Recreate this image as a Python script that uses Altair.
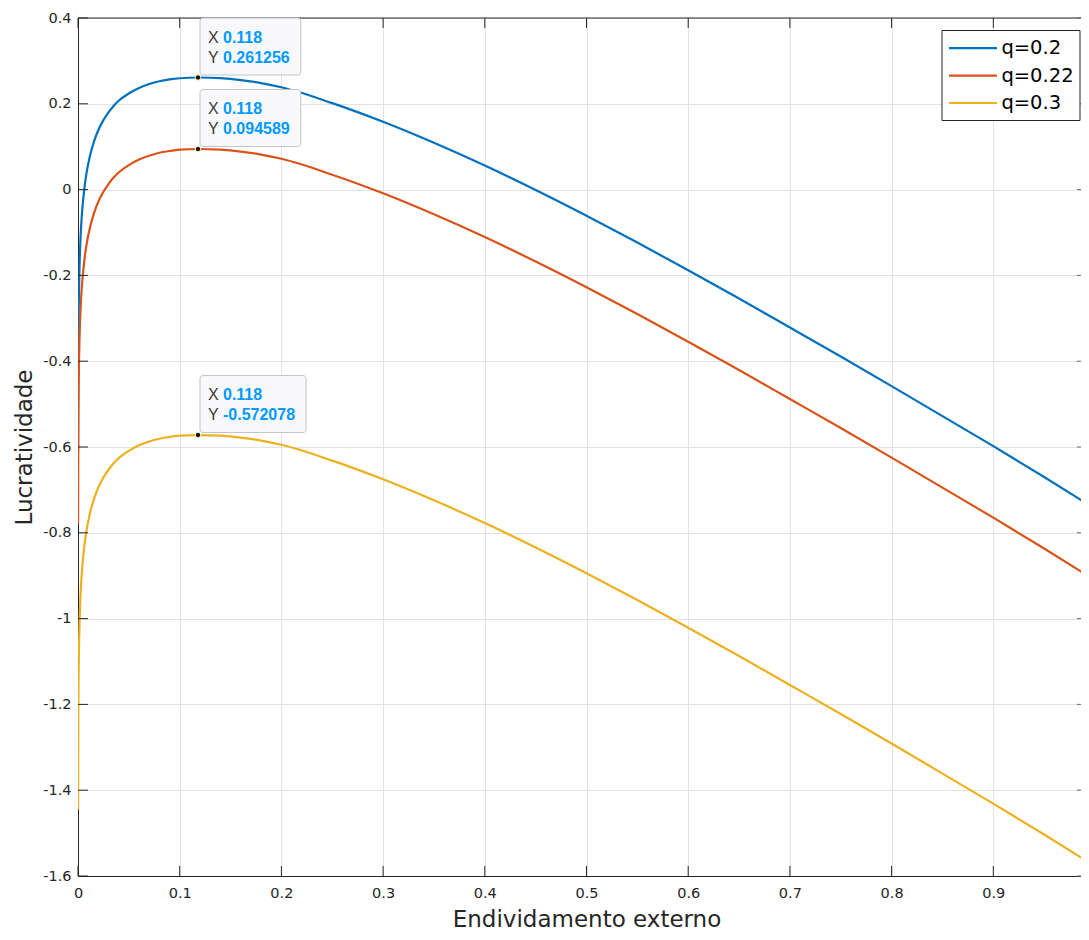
import altair as alt
import pandas as pd

# ---------------- data ----------------
x_vals = [0.00005, 0.0003, 0.0006, 0.001, 0.0016, 0.0025, 0.004, 0.006, 0.008, 0.012,
          0.016, 0.02, 0.025, 0.03, 0.035, 0.04, 0.05, 0.06, 0.07, 0.08,
          0.09, 0.1, 0.118, 0.14, 0.16, 0.18, 0.2, 0.25, 0.3, 0.35,
          0.4, 0.45, 0.5, 0.55, 0.6, 0.65, 0.7, 0.75, 0.8, 0.85,
          0.9, 0.95, 0.99]

y_q020 = [-0.612, -0.386, -0.296, -0.230, -0.170, -0.112, -0.053, -0.003, 0.033, 0.081,
          0.114, 0.139, 0.162, 0.180, 0.195, 0.207, 0.224, 0.237, 0.246, 0.2526,
          0.2569, 0.2596, 0.2613, 0.2597, 0.2553, 0.2483, 0.2385, 0.2015, 0.158, 0.109,
          0.056, -0.001, -0.061, -0.1235, -0.188, -0.254, -0.3215, -0.389, -0.458, -0.528,
          -0.598, -0.670, -0.729]

y_q022 = [-0.779, -0.553, -0.463, -0.397, -0.337, -0.279, -0.220, -0.170, -0.134, -0.086,
          -0.053, -0.028, -0.005, 0.013, 0.028, 0.040, 0.057, 0.070, 0.079, 0.086,
          0.090, 0.093, 0.0946, 0.093, 0.0886, 0.0816, 0.0718, 0.0348, -0.0087, -0.0577,
          -0.1107, -0.1677, -0.2277, -0.2902, -0.3547, -0.4207, -0.4882, -0.5557, -0.6247, -0.6947,
          -0.7647, -0.8367, -0.8957]

y_q030 = [-1.445, -1.219, -1.129, -1.063, -1.003, -0.945, -0.886, -0.836, -0.800, -0.752,
          -0.719, -0.694, -0.671, -0.653, -0.638, -0.626, -0.609, -0.596, -0.587, -0.5807,
          -0.5764, -0.5737, -0.5721, -0.5736, -0.578, -0.585, -0.5948, -0.6318, -0.6753, -0.7243,
          -0.7773, -0.8343, -0.8943, -0.9568, -1.0213, -1.0873, -1.1548, -1.2223, -1.2913, -1.3613,
          -1.4313, -1.5033, -1.5623]

series_names = ["q=0.2", "q=0.22", "q=0.3"]
series_colors = ["#0072BD", "#D95319", "#EDB120"]

tip_x = [0.118, 0.118, 0.118]
tip_y = [0.261256, 0.094589, -0.572078]
tip_x_text = ["0.118", "0.118", "0.118"]
tip_y_text = ["0.261256", "0.094589", "-0.572078"]

x_ticks = [0, 0.1, 0.2, 0.3, 0.4, 0.5, 0.6, 0.7, 0.8, 0.9]
y_ticks = [0.4, 0.2, 0, -0.2, -0.4, -0.6, -0.8, -1, -1.2, -1.4, -1.6]

x_title = "Endividamento externo"
y_title = "Lucratividade"

# ---------------- styling ----------------
PX_PER_UNIT = 1017          # horizontal scale of the reference axes
W, H = 1003, 858
X_MAX = W / PX_PER_UNIT     # the reference axes are cut off at the right edge
AX = "#262626"
GRID = "#e2e2e2"
AXIS_FONT = "DejaVu Sans"
TIP_FONT = "Liberation Sans"

curve_rows = []
for name, ys in zip(series_names, [y_q020, y_q022, y_q030]):
    for xv, yv in zip(x_vals, ys):
        curve_rows.append({"x": xv, "y": yv, "serie": name})
curves = pd.DataFrame(curve_rows)

color_scale = alt.Scale(domain=series_names, range=series_colors)
x_scale = alt.Scale(domain=[0, X_MAX], nice=False, zero=False)
y_scale = alt.Scale(domain=[-1.6, 0.4], nice=False, zero=False)

x_axis = alt.Axis(values=x_ticks, labelExpr="'' + datum.value", grid=True,
                  gridColor=GRID, gridWidth=1, ticks=False, tickSize=0,
                  domain=True, domainColor=AX, domainWidth=1,
                  labelFont=AXIS_FONT, labelFontSize=14.5, labelColor=AX,
                  labelPadding=10, labelFlush=False, labelOverlap=False,
                  title=x_title, titleFont=AXIS_FONT, titleFontSize=23,
                  titleFontWeight="normal", titleColor=AX, titleX=508.5, titleY=50,
                  titleBaseline="alphabetic", titleAlign="center")
y_axis = alt.Axis(values=y_ticks, labelExpr="'' + datum.value", grid=True,
                  gridColor=GRID, gridWidth=1, ticks=False, tickSize=0,
                  domain=True, domainColor=AX, domainWidth=1,
                  labelFont=AXIS_FONT, labelFontSize=14.5, labelColor=AX,
                  labelPadding=7, labelFlush=False, labelOverlap=False,
                  title=y_title, titleFont=AXIS_FONT, titleFontSize=23,
                  titleFontWeight="normal", titleColor=AX, titleX=-46.6, titleY=H / 2,
                  titleAngle=270, titleBaseline="alphabetic", titleAlign="center")

lines = alt.Chart(curves).mark_line(strokeWidth=2.2, interpolate="monotone", clip=True).encode(
    x=alt.X("x:Q", scale=x_scale, axis=x_axis),
    y=alt.Y("y:Q", scale=y_scale, axis=y_axis),
    color=alt.Color("serie:N", scale=color_scale, legend=None),
)

layers = [lines]

one = pd.DataFrame({"k": [0]})
# top border of the axes box
layers.append(alt.Chart(one).mark_rule(color=AX, strokeWidth=1).encode(
    x=alt.value(0), x2=alt.value(W), y=alt.value(0)))

# inward MATLAB-style ticks
xt = pd.DataFrame({"x": x_ticks})
yt = pd.DataFrame({"y": y_ticks})
layers.append(alt.Chart(xt).mark_rule(color=AX, strokeWidth=1).encode(
    x=alt.X("x:Q", scale=x_scale), y=alt.value(H), y2=alt.value(H - 10)))
layers.append(alt.Chart(xt).mark_rule(color=AX, strokeWidth=1).encode(
    x=alt.X("x:Q", scale=x_scale), y=alt.value(0), y2=alt.value(10)))
layers.append(alt.Chart(yt).mark_rule(color=AX, strokeWidth=1).encode(
    y=alt.Y("y:Q", scale=y_scale), x=alt.value(0), x2=alt.value(10)))
layers.append(alt.Chart(yt).mark_rule(color="#6a6a6a", strokeWidth=1).encode(
    y=alt.Y("y:Q", scale=y_scale), x=alt.value(W - 4), x2=alt.value(W)))

# data tips
tips = pd.DataFrame({"x": tip_x, "y": tip_y, "xs": tip_x_text, "ys": tip_y_text})
char_w = {".": 0.278, "-": 0.333}
for i in range(len(tips)):
    txt_w = sum(char_w.get(c, 0.556) for c in tip_y_text[i]) * 16
    box_w = txt_w + 34
    layers.append(alt.Chart(tips.iloc[[i]]).mark_rect(
        fill="#f9f9fc", stroke="#c3c3c8", strokeWidth=1, cornerRadius=3,
        xOffset=2, x2Offset=2 + box_w, yOffset=-59.5, y2Offset=-2.5).encode(
        x=alt.X("x:Q", scale=x_scale), x2="x", y=alt.Y("y:Q", scale=y_scale), y2="y"))

layers.append(alt.Chart(tips).mark_point(filled=True, size=30, fill="#141414",
                                         stroke="#fff8c0", strokeWidth=1, opacity=1).encode(
    x=alt.X("x:Q", scale=x_scale), y=alt.Y("y:Q", scale=y_scale)))

for lab, field, dy in [("X", "xs", -40), ("Y", "ys", -20)]:
    layers.append(alt.Chart(tips).mark_text(align="left", baseline="middle", dx=10, dy=dy,
                                            font=TIP_FONT, fontSize=16, color="#3a3a3a").encode(
        x=alt.X("x:Q", scale=x_scale), y=alt.Y("y:Q", scale=y_scale), text=alt.value(lab)))
    layers.append(alt.Chart(tips).mark_text(align="left", baseline="middle", dx=25, dy=dy,
                                            font=TIP_FONT, fontSize=16, fontWeight="bold",
                                            color="#0099ff").encode(
        x=alt.X("x:Q", scale=x_scale), y=alt.Y("y:Q", scale=y_scale), text=f"{field}:N"))

# legend (MATLAB style, long line samples)
LX0, LX1, LY0, LY1 = 864, 1004, 12.5, 102.5
layers.append(alt.Chart(one).mark_rect(fill="white", stroke=AX, strokeWidth=1).encode(
    x=alt.value(LX0), x2=alt.value(min(LX1, W - 1)), y=alt.value(LY0), y2=alt.value(LY1)))
for i, name in enumerate(series_names):
    row_y = LY0 + 17.7 + 27.4 * i
    d = pd.DataFrame({"serie": [name]})
    layers.append(alt.Chart(d).mark_rule(strokeWidth=2.2).encode(
        x=alt.value(LX0 + 7), x2=alt.value(LX0 + 55), y=alt.value(row_y),
        color=alt.Color("serie:N", scale=color_scale, legend=None)))
    layers.append(alt.Chart(d).mark_text(align="left", baseline="middle", font=AXIS_FONT,
                                         fontSize=19.5, color="#000000").encode(
        x=alt.value(LX0 + 59.4), y=alt.value(row_y), text="serie:N"))

chart = alt.layer(*layers).properties(
    width=W, height=H,
    autosize=alt.AutoSizeParams(type="none"),
    padding={"left": 70, "top": 10, "right": 0, "bottom": 56},
    background="white",
).configure_view(strokeWidth=0)

chart.save("out.html", embed_options={"renderer": "svg", "actions": False})
